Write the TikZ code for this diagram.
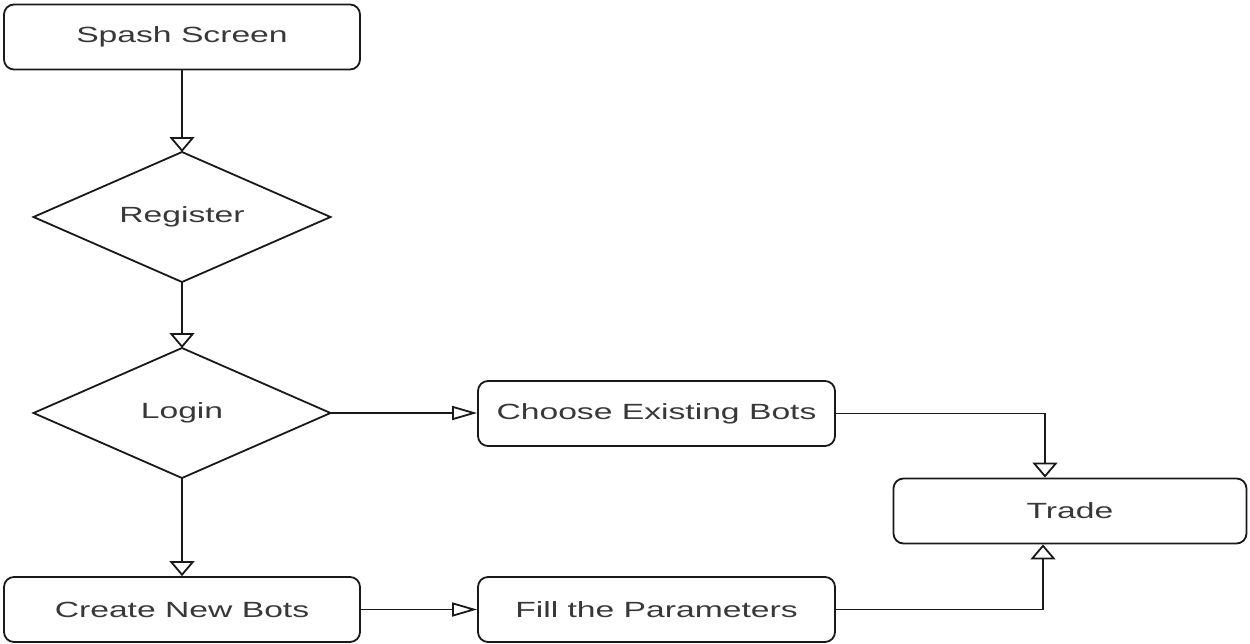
\documentclass[tikz,border=0pt]{standalone}
\usepackage{graphicx}
\usepackage{fontspec}
\setmainfont{Liberation Sans}
\usetikzlibrary{shapes.geometric,arrows.meta,calc}

% labels are set wide: the drawing is stretched horizontally
\newcommand{\widelabel}[1]{\scalebox{1.53}[1]{#1}}

\tikzset{
  flowline/.style={draw=black!90, line width=1.8pt},
  stepbox/.style={flowline, rectangle, rounded corners=10pt, inner sep=0pt,
    minimum height=65pt, text=black!78, font=\fontsize{22}{26}\selectfont},
  decision/.style={flowline, diamond, aspect=2.285, inner sep=0pt, outer sep=0pt,
    minimum width=297pt, minimum height=130pt, text=black!78,
    font=\fontsize{22}{26}\selectfont},
  downarrow/.style={flowline, -{Triangle[open, length=15pt, width=25pt, line width=1.8pt]}},
  rightarrow/.style={flowline, -{Triangle[open, length=25pt, width=14pt, line width=1.8pt]}},
}

\begin{document}
\begin{tikzpicture}[x=1pt, y=-1pt]
  \useasboundingbox (0,0) rectangle (1250,643);

  \node[stepbox, minimum width=356pt] (splash) at (182,37) {\widelabel{Spash Screen}};
  \node[decision] (register) at (182,217) {\widelabel{Register}};
  \node[decision] (login) at (182,413) {\widelabel{Login}};
  \node[stepbox, minimum width=356pt] (create) at (182,609.5) {\widelabel{Create New Bots}};
  \node[stepbox, minimum width=357pt] (choose) at (656.5,413.5) {\widelabel{Choose Existing Bots}};
  \node[stepbox, minimum width=357pt] (fill) at (656.5,609.5) {\widelabel{Fill the Parameters}};
  \node[stepbox, minimum width=353pt] (trade) at (1070,511) {\widelabel{Trade}};

  \draw[downarrow] (splash.south) -- (register.north);
  \draw[downarrow] (register.south) -- (login.north);
  \draw[downarrow] (login.south) -- (create.north);
  \draw[rightarrow] (login.east) -- (login.east -| choose.west);
  \draw[rightarrow] (create.east) -- (fill.west);
  \draw[downarrow] (choose.east) -| ([xshift=-25pt]trade.north);
  \draw[downarrow] (fill.east) -| ([xshift=-27pt]trade.south);
\end{tikzpicture}
\end{document}
